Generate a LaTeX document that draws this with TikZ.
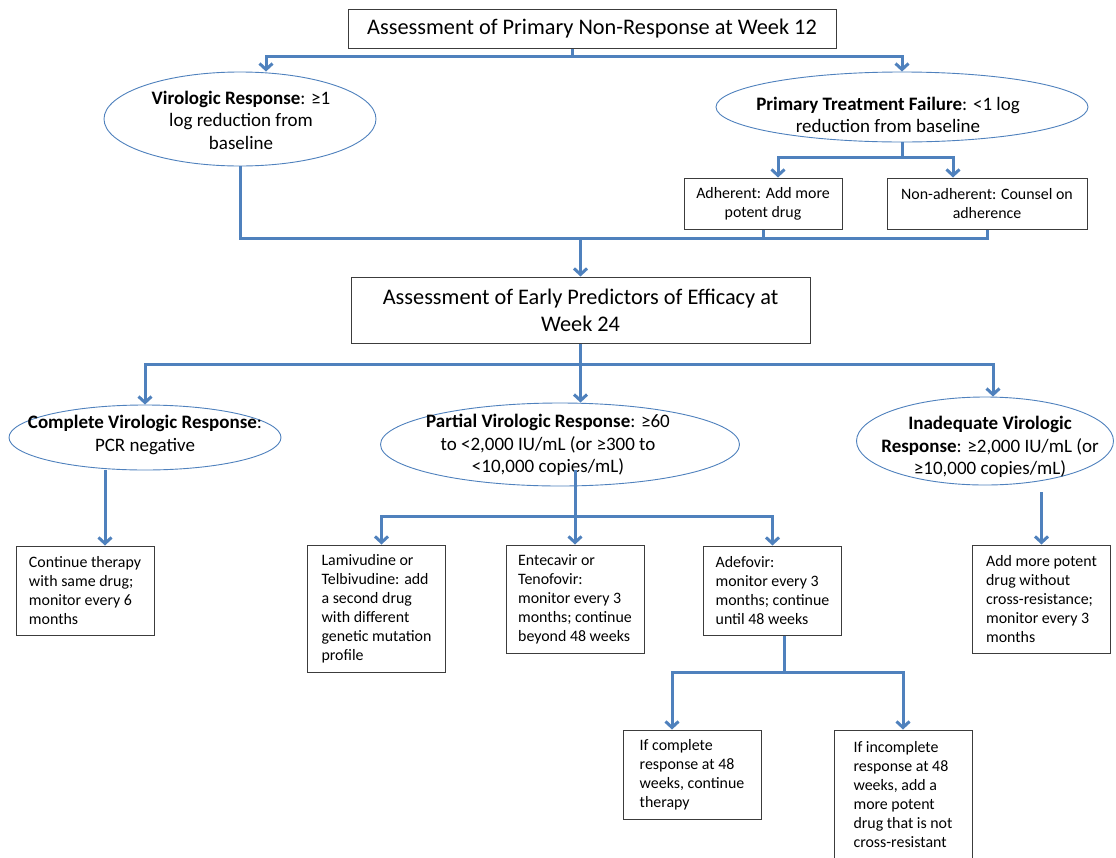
\documentclass[tikz,border=0pt]{standalone}
\usepackage{fontspec}
\setmainfont{Carlito}
\usetikzlibrary{arrows.meta,shapes.geometric}
\definecolor{linkblue}{RGB}{79,129,189}
\definecolor{boxline}{RGB}{60,60,60}

\begin{document}
\begin{tikzpicture}[x=1pt,y=-1pt,>={Straight Barb[length=6pt,width=13pt]}]
\tikzstyle{head}=[draw=boxline, line width=1pt, fill=white, font=\fontsize{22.3}{27}\selectfont, align=center, inner sep=0pt]
\tikzstyle{oval}=[ellipse, draw=linkblue, line width=0.9pt, fill=white, inner sep=0pt]
\tikzstyle{ovaltext}=[font=\fontsize{19}{22.5}\selectfont, align=center, inner sep=0pt]
\tikzstyle{note}=[draw=boxline, line width=1pt, fill=white, font=\fontsize{15.9}{19}\selectfont, align=left, inner sep=0pt, minimum width=138pt]
\tikzstyle{link}=[draw=linkblue, line width=3pt]

\useasboundingbox (0,0) rectangle (1116,857);
\clip (0,0) rectangle (1116,857);

% week 12
\node[head, minimum width=488pt, minimum height=39pt] (top) at (592,28.5) {Assessment of Primary Non-Response at Week 12};
\node[oval, minimum width=272pt, minimum height=94pt] (vresp) at (240,119) {};
\node[ovaltext] (vrespt) at (241,120) {\textbf{Virologic Response}: ≥1\\log reduction from\\baseline};
\node[oval, minimum width=372pt, minimum height=70pt] (ptf) at (902,107) {};
\node[ovaltext] (ptft) at (888,115) {\textbf{Primary Treatment Failure}: <1 log\\reduction from baseline};
\node[note, align=center, minimum width=158pt, minimum height=51pt] (adh) at (763,203.5) {Adherent: Add more\\potent drug};
\node[note, align=center, minimum width=200pt, minimum height=51pt] (nonadh) at (987,203.5) {Non-adherent: Counsel on\\adherence};

% week 24
\node[head, minimum width=459pt, minimum height=66pt] (early) at (580.5,310) {Assessment of Early Predictors of Efficacy at\\Week 24};
\node[oval, minimum width=272pt, minimum height=65pt] (cvr) at (145,437.5) {};
\node[ovaltext] (cvrt) at (145,435) {\textbf{Complete Virologic Response}:\\PCR negative};
\node[oval, minimum width=359pt, minimum height=83pt] (pvr) at (560,444.5) {};
\node[ovaltext] (pvrt) at (548,445) {\textbf{Partial Virologic Response}: ≥60\\to <2,000 IU/mL (or ≥300 to\\<10,000 copies/mL)};
\node[oval, minimum width=257pt, minimum height=88pt] (ivr) at (985,441) {};
\node[ovaltext] (ivrt) at (990,447) {\textbf{Inadequate Virologic}\\\textbf{Response}: ≥2,000 IU/mL (or\\≥10,000 copies/mL)};

% actions
\node[note, minimum height=89pt] (cont) at (85,590.5) {Continue therapy\\with same drug;\\monitor every 6\\months};
\node[note, minimum height=127pt] (lam) at (376.5,608.5) {Lamivudine or\\Telbivudine: add\\a second drug\\with different\\genetic mutation\\profile};
\node[note, minimum height=108pt] (ent) at (575,599) {Entecavir or\\Tenofovir:\\monitor every 3\\months; continue\\beyond 48 weeks};
\node[note, minimum height=89pt] (ade) at (772.5,590.5) {Adefovir:\\monitor every 3\\months; continue\\until 48 weeks};
\node[note, minimum height=108pt] (add) at (1041.5,599) {Add more potent\\drug without\\cross-resistance;\\monitor every 3\\months};
\node[note, minimum height=89pt] (ifc) at (692,774.5) {If complete\\response at 48\\weeks, continue\\therapy};
\node[note, minimum height=129pt] (ifi) at (903,794.5) {If incomplete\\response at 48\\weeks, add a\\more potent\\drug that is not\\cross-resistant};

% connectors
\draw[link] ([xshift=-20pt]top.south) -- ++(0,8) coordinate (s1);
\draw[link,->] (s1) -| ([xshift=26pt]vresp.north);
\draw[link,->] (s1) -| (ptf.north);
\draw[link] (ptf.south) -- ++(0,15) coordinate (s2);
\draw[link,->] (s2) -| ([xshift=15pt]adh.north);
\draw[link,->] (s2) -| ([xshift=-34pt]nonadh.north);
\coordinate (m) at (580.5,238);
\draw[link] (vresp.south) |- (m);
\draw[link] (adh.south) |- (m);
\draw[link] (nonadh.south) |- (m);
\draw[link,->] (m) -- (early.north);
\draw[link] (early.south) -- ++(0,21) coordinate (s3);
\draw[link,->] (s3) -| (cvr.north);
\draw[link,->] (s3) -- (s3 |- pvr.north);
\draw[link,->] (s3) -| ([xshift=8pt]ivr.north);
\draw[link,->] ([xshift=20pt]cont.north |- cvr.south) -- ([xshift=20pt]cont.north);
\draw[link] (ent.north |- 0,470) -- (ent.north |- 0,516) coordinate (s4);
\draw[link,->] (s4) -| ([xshift=5pt]lam.north);
\draw[link,->] (s4) -- (ent.north);
\draw[link,->] (s4) -| (ade.north);
\draw[link,->] ([yshift=-7pt]ivr.south -| add.north) -- (add.north);
\draw[link] ([xshift=12pt]ade.south) -- ++(0,37) coordinate (s5);
\draw[link,->] (s5) -| ([xshift=-20pt]ifc.north);
\draw[link,->] (s5) -| (ifi.north);
\end{tikzpicture}
\end{document}
